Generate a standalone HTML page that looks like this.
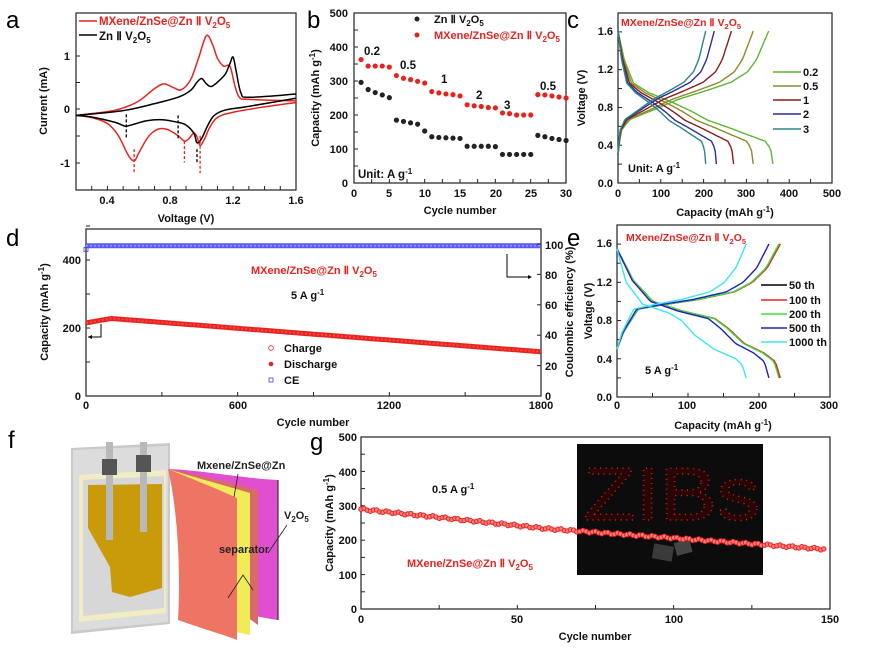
<!DOCTYPE html>
<html><head><meta charset="utf-8">
<style>
html,body{margin:0;padding:0;background:#fff;}
svg{display:block;font-family:"Liberation Sans",Arial,sans-serif;}
.t{font-size:11px;font-weight:bold;fill:#111;}
.L{font-size:24px;fill:#000;}
.r{fill:#e8231f;font-weight:bold;font-size:11px;}
</style></head>
<body>
<svg id="s" width="889" height="651" viewBox="0 0 889 651" xmlns="http://www.w3.org/2000/svg">
<rect width="889" height="651" fill="#fff"/>
<!-- g inset (drawn below data) -->
<rect x="577" y="444" width="186" height="131" fill="#0c0c0c"/>
<text x="583" y="520" textLength="177" lengthAdjust="spacingAndGlyphs" style="font-size:75px;fill:#2a0505;stroke:#d82020;stroke-width:1.5;stroke-dasharray:0.9 4">ZIBs</text>
<rect x="653" y="545" width="20" height="15" fill="#3a3a3a" transform="rotate(10 663 552)"/>
<rect x="675" y="541" width="16" height="13" fill="#444" transform="rotate(-15 683 547)"/>
<g id="dyn"></g>

<text class="L" x="6" y="28">a</text>
<text class="L" x="307" y="28">b</text>
<text class="L" x="567" y="28">c</text>
<text class="L" x="6" y="246">d</text>
<text class="L" x="567" y="246">e</text>
<text class="L" x="8" y="448">f</text>
<text class="L" x="310" y="450">g</text>

<!-- a labels -->
<g class="t" text-anchor="middle">
<text x="107" y="204">0.4</text><text x="170" y="204">0.8</text><text x="233" y="204">1.2</text><text x="296" y="204">1.6</text>
</g>
<g class="t" text-anchor="end">
<text x="70" y="60">1</text><text x="70" y="113">0</text><text x="70" y="167">-1</text>
</g>
<text class="t" x="186" y="222" text-anchor="middle">Voltage (V)</text>
<text class="t" transform="translate(47,101) rotate(-90)" text-anchor="middle">Current (mA)</text>
<line x1="79" y1="21" x2="97" y2="21" stroke="#e8231f" stroke-width="1.5"/>
<text class="r" x="99" y="25" style="font-size:11.5px">MXene/ZnSe@Zn Ⅱ V<tspan font-size="8" dy="3">2</tspan><tspan dy="-3">O</tspan><tspan font-size="8" dy="3">5</tspan></text>
<line x1="79" y1="35" x2="97" y2="35" stroke="#000" stroke-width="1.5"/>
<text class="t" x="99" y="40" style="font-size:11.5px">Zn Ⅱ V<tspan font-size="8" dy="3">2</tspan><tspan dy="-3">O</tspan><tspan font-size="8" dy="3">5</tspan></text>

<!-- b labels -->
<g class="t" text-anchor="middle">
<text x="354" y="197">0</text><text x="389" y="197">5</text><text x="425" y="197">10</text><text x="460" y="197">15</text><text x="496" y="197">20</text><text x="531" y="197">25</text><text x="566" y="197">30</text>
</g>
<g class="t" text-anchor="end">
<text x="348" y="187">0</text><text x="348" y="153">100</text><text x="348" y="119">200</text><text x="348" y="85">300</text><text x="348" y="51">400</text><text x="348" y="17">500</text>
</g>
<text class="t" x="460" y="214" text-anchor="middle">Cycle number</text>
<text class="t" transform="translate(319,98) rotate(-90)" text-anchor="middle">Capacity (mAh g<tspan font-size="8" dy="-4">-1</tspan><tspan dy="4">)</tspan></text>
<circle cx="417" cy="19" r="2.5" fill="#222"/>
<text class="t" x="434" y="23">Zn Ⅱ V<tspan font-size="8" dy="3">2</tspan><tspan dy="-3">O</tspan><tspan font-size="8" dy="3">5</tspan></text>
<circle cx="417" cy="35" r="2.5" fill="#e8231f"/>
<text class="r" x="434" y="39">MXene/ZnSe@Zn Ⅱ V<tspan font-size="8" dy="3">2</tspan><tspan dy="-3">O</tspan><tspan font-size="8" dy="3">5</tspan></text>
<g class="t" style="font-size:11.5px">
<text x="364" y="55">0.2</text><text x="400" y="69">0.5</text><text x="441" y="83">1</text><text x="476" y="99">2</text><text x="504" y="109">3</text><text x="540" y="90">0.5</text>
<text x="358" y="178">Unit: A g<tspan font-size="8" dy="-4">-1</tspan></text>
</g>

<!-- c labels -->
<g class="t" text-anchor="middle">
<text x="618" y="197">0</text><text x="661" y="197">100</text><text x="704" y="197">200</text><text x="746" y="197">300</text><text x="789" y="197">400</text><text x="832" y="197">500</text>
</g>
<g class="t" text-anchor="end">
<text x="613" y="187">0.0</text><text x="613" y="149">0.4</text><text x="613" y="111">0.8</text><text x="613" y="73">1.2</text><text x="613" y="35">1.6</text>
</g>
<text class="t" x="725" y="216" text-anchor="middle">Capacity (mAh g<tspan font-size="8" dy="-4">-1</tspan><tspan dy="4">)</tspan></text>
<text class="t" transform="translate(585,98) rotate(-90)" text-anchor="middle">Voltage (V)</text>
<text class="r" x="621" y="26" style="font-size:10.5px">MXene/ZnSe@Zn Ⅱ V<tspan font-size="7.5" dy="3">2</tspan><tspan dy="-3">O</tspan><tspan font-size="7.5" dy="3">5</tspan></text>
<text class="t" x="628" y="172">Unit: A g<tspan font-size="8" dy="-4">-1</tspan></text>
<g class="t">
<text x="803" y="76">0.2</text><text x="803" y="90">0.5</text><text x="803" y="104">1</text><text x="803" y="118">2</text><text x="803" y="133">3</text>
</g>
<line x1="773" y1="72" x2="801" y2="72" stroke="#5fb535" stroke-width="1.5"/>
<line x1="773" y1="86" x2="801" y2="86" stroke="#8e8a2a" stroke-width="1.5"/>
<line x1="773" y1="100" x2="801" y2="100" stroke="#8a1c1c" stroke-width="1.5"/>
<line x1="773" y1="114" x2="801" y2="114" stroke="#2b2f96" stroke-width="1.5"/>
<line x1="773" y1="129" x2="801" y2="129" stroke="#2d8585" stroke-width="1.5"/>

<!-- d labels -->
<g class="t" text-anchor="middle">
<text x="86" y="409">0</text><text x="238" y="409">600</text><text x="389" y="409">1200</text><text x="541" y="409">1800</text>
</g>
<g class="t" text-anchor="end">
<text x="81" y="400">0</text><text x="81" y="332">200</text><text x="81" y="264">400</text>
</g>
<g class="t" text-anchor="start">
<text x="545" y="400">0</text><text x="545" y="370">20</text><text x="545" y="339">40</text><text x="545" y="309">60</text><text x="545" y="279">80</text><text x="545" y="249">100</text>
</g>
<text class="t" x="313" y="426" text-anchor="middle">Cycle number</text>
<text class="t" transform="translate(48,312) rotate(-90)" text-anchor="middle">Capacity (mAh g<tspan font-size="8" dy="-4">-1</tspan><tspan dy="4">)</tspan></text>
<text class="t" transform="translate(573,312) rotate(-90)" text-anchor="middle">Coulombic efficiency (%)</text>
<text class="r" x="251" y="274" style="font-size:11px">MXene/ZnSe@Zn Ⅱ V<tspan font-size="8" dy="3">2</tspan><tspan dy="-3">O</tspan><tspan font-size="8" dy="3">5</tspan></text>
<text class="t" x="291" y="299">5 A g<tspan font-size="8" dy="-4">-1</tspan></text>
<circle cx="271" cy="348" r="2.3" fill="none" stroke="#e8231f" stroke-width="0.8"/>
<text class="t" x="284" y="352">Charge</text>
<circle cx="271" cy="364" r="2.3" fill="#e8231f"/>
<text class="t" x="284" y="368">Discharge</text>
<rect x="269" y="378" width="4" height="4" fill="none" stroke="#4040ff" stroke-width="0.8"/>
<text class="t" x="284" y="384">CE</text>
<polyline points="101,324 101,337 88,337" fill="none" stroke="#000" stroke-width="1"/>
<polygon points="88,337 92,335 92,339" fill="#000"/>
<polyline points="507,254 507,277 528,277" fill="none" stroke="#000" stroke-width="1"/>
<polygon points="532,277 528,275 528,279" fill="#000"/>

<!-- e labels -->
<g class="t" text-anchor="middle">
<text x="617" y="409">0</text><text x="687" y="409">100</text><text x="758" y="409">200</text><text x="829" y="409">300</text>
</g>
<g class="t" text-anchor="end">
<text x="612" y="401">0.0</text><text x="612" y="363">0.4</text><text x="612" y="324">0.8</text><text x="612" y="286">1.2</text><text x="612" y="247">1.6</text>
</g>
<text class="t" x="723" y="429" text-anchor="middle">Capacity (mAh g<tspan font-size="8" dy="-4">-1</tspan><tspan dy="4">)</tspan></text>
<text class="t" transform="translate(592,311) rotate(-90)" text-anchor="middle">Voltage (V)</text>
<text class="r" x="626" y="241" style="font-size:10.5px">MXene/ZnSe@Zn Ⅱ V<tspan font-size="7.5" dy="3">2</tspan><tspan dy="-3">O</tspan><tspan font-size="7.5" dy="3">5</tspan></text>
<text class="t" x="645" y="374">5 A g<tspan font-size="8" dy="-4">-1</tspan></text>
<g class="t">
<text x="789" y="289">50 th</text><text x="789" y="304">100 th</text><text x="789" y="318">200 th</text><text x="789" y="332">500 th</text><text x="789" y="346">1000 th</text>
</g>
<line x1="761" y1="285" x2="787" y2="285" stroke="#000" stroke-width="1.5"/>
<line x1="761" y1="300" x2="787" y2="300" stroke="#e8231f" stroke-width="1.5"/>
<line x1="761" y1="314" x2="787" y2="314" stroke="#3ee03e" stroke-width="1.5"/>
<line x1="761" y1="328" x2="787" y2="328" stroke="#2020c0" stroke-width="1.5"/>
<line x1="761" y1="342" x2="787" y2="342" stroke="#3ce6f2" stroke-width="1.5"/>

<!-- f drawing -->
<g>
<polygon points="71,448 170,443 170,624 71,634" fill="#c9c9c9"/>
<polygon points="73,450 168,446 168,622 73,631" fill="#dcdcdc"/>
<polygon points="79,475 166,470 166,613 79,622" fill="#f2ecc4"/>
<polygon points="83,480 164,476 164,608 83,616" fill="#d7d7d7"/>
<polygon points="88,485 162,484 162,588 130,597 112,592 110,567 88,528" fill="#c99a0a"/>
<rect x="106" y="442" width="7" height="98" fill="#b9b9b9"/>
<rect x="140" y="442" width="7" height="90" fill="#b9b9b9"/>
<rect x="102" y="459" width="15" height="16" fill="#555"/>
<rect x="136" y="455" width="15" height="17" fill="#555"/>
<path d="M168,469 C200,470 240,478 278,480 L278,620 C260,618 240,612 232,610 Z" fill="#e04fd0"/>
<line x1="278" y1="480" x2="278" y2="620" stroke="#333" stroke-width="1.2"/>
<path d="M168,469 C195,474 235,484 258,490 L258,625 L240,612 Z" fill="#d96a6a"/>
<path d="M168,469 C190,476 230,487 250,493 L250,635 L237,632 Z" fill="#f0ec58"/>
<path d="M168,469 C180,520 180,590 178,620 C200,628 225,635 237,640 L237,498 C220,490 190,478 168,469 Z" fill="#ee7464"/>
<text x="197" y="469" style="font-size:11px;font-weight:bold;fill:#222">Mxene/ZnSe@Zn</text>
<line x1="238" y1="474" x2="234" y2="497" stroke="#222" stroke-width="0.8"/>
<text x="284" y="519" style="font-size:11px;font-weight:bold;fill:#222">V<tspan font-size="8" dy="3">2</tspan><tspan dy="-3">O</tspan><tspan font-size="8" dy="3">5</tspan></text>
<line x1="287" y1="525" x2="268" y2="553" stroke="#222" stroke-width="0.8"/>
<text x="219" y="553" style="font-size:11px;font-weight:bold;fill:#222">separator</text>
<polyline points="228,598 243,575 253,590" fill="none" stroke="#222" stroke-width="0.8"/>
</g>

<!-- g labels -->
<g class="t" text-anchor="middle">
<text x="361" y="623">0</text><text x="517" y="623">50</text><text x="674" y="623">100</text><text x="830" y="623">150</text>
</g>
<g class="t" text-anchor="end">
<text x="357" y="613">0</text><text x="357" y="579">100</text><text x="357" y="544">200</text><text x="357" y="510">300</text><text x="357" y="476">400</text><text x="357" y="441">500</text>
</g>
<text class="t" x="595" y="640" text-anchor="middle">Cycle number</text>
<text class="t" transform="translate(333,523) rotate(-90)" text-anchor="middle">Capacity (mAh g<tspan font-size="8" dy="-4">-1</tspan><tspan dy="4">)</tspan></text>
<text class="t" x="432" y="493">0.5 A g<tspan font-size="8" dy="-4">-1</tspan></text>
<text class="r" x="407" y="567">MXene/ZnSe@Zn Ⅱ V<tspan font-size="8" dy="3">2</tspan><tspan dy="-3">O</tspan><tspan font-size="8" dy="3">5</tspan></text>
</svg>
<script>
(function(){
var NS="http://www.w3.org/2000/svg",g=document.getElementById('dyn');
function el(n,a){var e=document.createElementNS(NS,n);for(var k in a)e.setAttribute(k,a[k]);g.appendChild(e);return e;}
function box(x0,y0,x1,y1){el('rect',{x:x0,y:y0,width:x1-x0,height:y1-y0,fill:'none',stroke:'#222','stroke-width':1.2});}
function xt(xs,y0,y1,len){xs.forEach(function(x){el('line',{x1:x,y1:y1,x2:x,y2:y1-len,stroke:'#222','stroke-width':1});});}
function yt(ys,x0,len){ys.forEach(function(y){el('line',{x1:x0,y1:y,x2:x0+len,y2:y,stroke:'#222','stroke-width':1});});}
function rng(a,b,n){var r=[];for(var i=0;i<=n;i++)r.push(a+(b-a)*i/n);return r;}
function interp(pts,f){for(var i=1;i<pts.length;i++){if(f<=pts[i][0]){var a=pts[i-1],b=pts[i],t=(f-a[0])/(b[0]-a[0]);return a[1]+(b[1]-a[1])*t;}}return pts[pts.length-1][1];}
function smooth(pts){
 var d='M'+pts[0][0]+','+pts[0][1];
 for(var i=0;i<pts.length-1;i++){var p0=pts[i-1]||pts[i],p1=pts[i],p2=pts[i+1],p3=pts[i+2]||p2;
  d+=' C'+(p1[0]+(p2[0]-p0[0])/6)+','+(p1[1]+(p2[1]-p0[1])/6)+' '+(p2[0]-(p3[0]-p1[0])/6)+','+(p2[1]-(p3[1]-p1[1])/6)+' '+p2[0]+','+p2[1];}
 return d;}
var ax=function(v){return 76+(v-0.2)*157.1},ay=function(i){return 109-i*53.5};
box(76,13,296,190);
xt(rng(76,296,14),13,190,4);yt([56,109,163,82.5,136],76,4);
function cv(arr,col){var p=arr.map(function(q){return [ax(q[0]),ay(q[1])]});el('path',{d:smooth(p),fill:'none',stroke:col,'stroke-width':1.5});}
cv([[0.2,-0.12],[0.4,-0.05],[0.5,0.02],[0.6,0.15],[0.7,0.38],[0.76,0.47],[0.82,0.4],[0.87,0.36],[0.93,0.55],[0.98,0.95],[1.03,1.37],[1.07,1.2],[1.1,0.95],[1.14,0.8],[1.18,0.8],[1.21,0.45],[1.24,0.22],[1.3,0.18],[1.6,0.15]],'#e8231f');
cv([[1.6,0.12],[1.4,0.04],[1.2,-0.06],[1.1,-0.16],[1.05,-0.35],[1.02,-0.55],[0.99,-0.68],[0.97,-0.52],[0.95,-0.45],[0.92,-0.55],[0.89,-0.6],[0.85,-0.5],[0.78,-0.38],[0.72,-0.38],[0.66,-0.52],[0.6,-0.82],[0.57,-0.97],[0.53,-0.85],[0.47,-0.5],[0.4,-0.27],[0.3,-0.16],[0.2,-0.12]],'#e8231f');
cv([[0.2,-0.12],[0.5,-0.03],[0.7,0.1],[0.85,0.22],[0.93,0.35],[0.97,0.5],[1.0,0.57],[1.03,0.47],[1.06,0.42],[1.1,0.5],[1.15,0.65],[1.18,0.85],[1.2,0.97],[1.22,0.7],[1.25,0.3],[1.3,0.22],[1.6,0.28]],'#000');
cv([[1.6,0.2],[1.3,0.05],[1.15,-0.02],[1.08,-0.12],[1.04,-0.3],[1.0,-0.55],[0.97,-0.63],[0.95,-0.45],[0.9,-0.3],[0.85,-0.25],[0.75,-0.2],[0.65,-0.22],[0.55,-0.3],[0.51,-0.32],[0.45,-0.25],[0.3,-0.15],[0.2,-0.12]],'#000');
[[0.52,-0.1,-0.55,'#000'],[0.85,-0.12,-0.55,'#000'],[0.97,-0.75,-1.0,'#000'],[0.57,-0.75,-1.2,'#e8231f'],[0.89,-0.6,-1.0,'#e8231f'],[0.99,-0.5,-1.2,'#e8231f']].forEach(function(q){
 el('line',{x1:ax(q[0]),y1:ay(q[1]),x2:ax(q[0]),y2:ay(q[2]),stroke:q[3],'stroke-width':1.3,'stroke-dasharray':'3,2'});});
var bx=function(c){return 354+c*7.07},by=function(v){return 183-v*0.34};
box(354,13,566,183);
xt(rng(354,566,12),13,183,4);yt(rng(183,13,10),354,4);
var kb=[296,275,266,259,251,185,181,177,173,153,136,134,133,132,131,108,108,108,108,107,84,84,84,84,84,140,136,131,128,125];
var rb=[363,344,344,344,341,316,308,304,299,294,269,265,262,260,256,230,227,225,222,221,206,204,200,200,200,260,259,256,253,250];
kb.forEach(function(v,i){el('circle',{cx:bx(i+1),cy:by(v),r:2.6,fill:'#222'});});
rb.forEach(function(v,i){el('circle',{cx:bx(i+1),cy:by(v),r:2.6,fill:'#e8231f'});});
var cx=function(q){return 618+q*0.428},cy=function(v){return 183-v*95};
box(618,13,832,183);
xt(rng(618,832,10),13,183,4);yt(rng(183,13,9),618,4);
var dis=[[0,1.6],[0.04,1.3],[0.1,1.05],[0.2,0.95],[0.35,0.85],[0.48,0.75],[0.58,0.66],[0.72,0.58],[0.85,0.5],[0.95,0.44],[0.985,0.36],[1,0.2]];
var chg=[[0,0.3],[0.02,0.55],[0.08,0.67],[0.22,0.76],[0.4,0.88],[0.6,0.98],[0.75,1.06],[0.86,1.17],[0.92,1.3],[1,1.6]];
var cc=['#5fb535','#8e8a2a','#8a1c1c','#2b2f96','#2d8585'],QD=[362,316,270,230,205],QC=[352,316,265,225,205];
function curve(sx,sy,Q,pts,col){var p=[];for(var i=0;i<=80;i++){var f=i/80;p.push((sx(f*Q)).toFixed(1)+','+(sy(interp(pts,f))).toFixed(1));}el('polyline',{points:p.join(' '),fill:'none',stroke:col,'stroke-width':1.4});}
for(var k=0;k<5;k++){curve(cx,cy,QD[k],dis,cc[k]);curve(cx,cy,QC[k],chg,cc[k]);}
var dx=function(c){return 86+c*0.2528},dy=function(v){return 396-v*0.34},dyr=function(p){return 396-p*1.51};
box(86,229,541,396);
xt(rng(86,541,6),229,396,4);yt(rng(396,226,5),86,4);
var dp=[];for(var c=0;c<=1800;c+=10){var v=c<100?215+13*(c/100):228-(c-100)*98/1700;dp.push(dx(c).toFixed(1)+','+dy(v).toFixed(1));}
el('polyline',{points:dp.join(' '),fill:'none',stroke:'#e8231f','stroke-width':5});
el('polyline',{points:dp.join(' '),fill:'none',stroke:'#f04a40','stroke-width':2,'stroke-dasharray':'2,2'});
el('line',{x1:dx(0),y1:dyr(99.5),x2:dx(1800),y2:dyr(99.5),stroke:'#5a5aff','stroke-width':5});
el('line',{x1:dx(0),y1:dyr(99.5),x2:dx(1800),y2:dyr(99.5),stroke:'#9a9aff','stroke-width':1.5,'stroke-dasharray':'2,2'});
el('rect',{x:dx(0)-2,y:dyr(97)-2,width:4,height:4,fill:'none',stroke:'#4040ff','stroke-width':0.8});
rng(396,244,5).forEach(function(y){el('line',{x1:541,y1:y,x2:537,y2:y,stroke:'#222'});});
var ex=function(q){return 617+q*0.71},ey=function(v){return 397-v*95.6};
box(617,225,830,397);
xt(rng(617,830,6),225,397,4);yt(rng(397,225,9),617,4);
var ed=[[0,1.55],[0.1,1.22],[0.22,1.0],[0.4,0.9],[0.6,0.82],[0.68,0.72],[0.78,0.56],[0.9,0.46],[0.97,0.37],[1,0.2]];
var ec=[[0,0.5],[0.04,0.68],[0.13,0.92],[0.3,0.97],[0.5,1.02],[0.72,1.1],[0.83,1.2],[0.92,1.35],[1,1.6]];
var ed2=[[0,1.55],[0.07,1.2],[0.2,0.97],[0.4,0.88],[0.5,0.8],[0.6,0.65],[0.75,0.5],[0.92,0.4],[0.97,0.33],[1,0.2]];
var ecol=['#000','#e8231f','#3ee03e','#2020c0','#3ce6f2'],EQ=[229,230,228,214,182];
for(var k=0;k<5;k++){curve(ex,ey,EQ[k],k==4?ed2:ed,ecol[k]);curve(ex,ey,EQ[k],ec,ecol[k]);}
var gx=function(c){return 361+c*3.127},gy=function(v){return 609-v*0.344};
box(361,437,830,609);
xt(rng(361,830,6),437,609,4);yt(rng(609,437,10),361,4);
for(var c=0;c<=148;c++){var v=290-c*0.95+(c>60?(c-60)*0.28:0)+Math.sin(c*1.7)*3;
 el('circle',{cx:gx(c).toFixed(1),cy:gy(v).toFixed(1),r:2.2,fill:'#f48080',stroke:'#e8231f','stroke-width':1});}
})();
</script>
</body></html>
